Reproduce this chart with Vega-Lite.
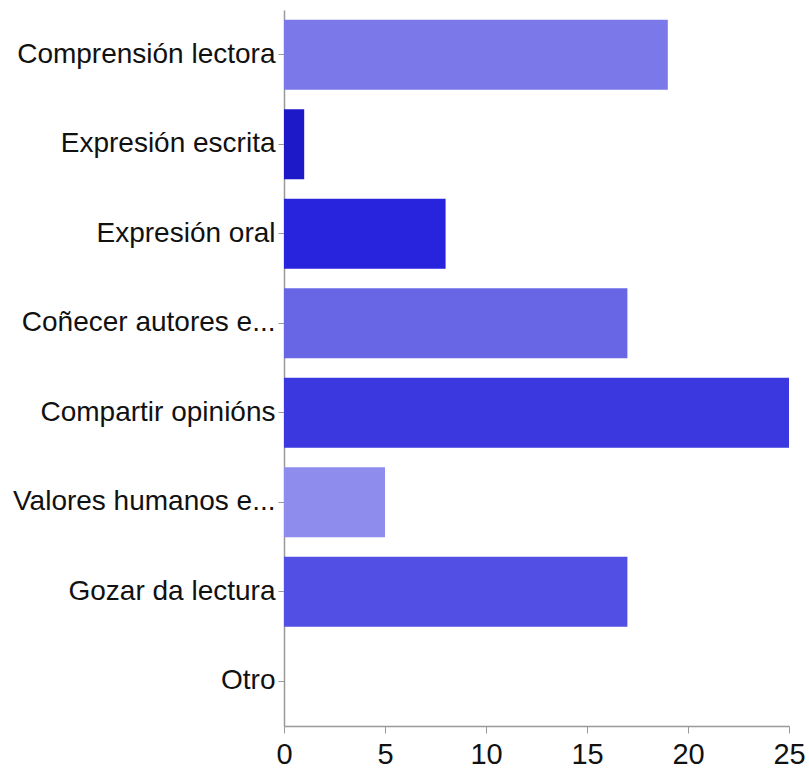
{
  "$schema": "https://vega.github.io/schema/vega-lite/v6.json",
  "autosize": {"type": "none"},
  "width": 505,
  "height": 716,
  "padding": {"left": 284, "top": 10, "right": 20, "bottom": 46},
  "background": "white",
  "config": {
    "view": {"stroke": null},
    "font": "Liberation Sans"
  },
  "data": {
    "values": [
      {"category": "Comprensión lectora", "count": 19, "color": "#7B78EA"},
      {"category": "Expresión escrita", "count": 1, "color": "#1E19C8"},
      {"category": "Expresión oral", "count": 8, "color": "#2823DC"},
      {"category": "Coñecer autores e...", "count": 17, "color": "#6966E6"},
      {"category": "Compartir opinións", "count": 25, "color": "#3A38DE"},
      {"category": "Valores humanos e...", "count": 5, "color": "#8E8CEC"},
      {"category": "Gozar da lectura", "count": 17, "color": "#5250E4"},
      {"category": "Otro", "count": 0, "color": "#5250E4"}
    ]
  },
  "mark": {"type": "bar"},
  "encoding": {
    "y": {
      "field": "category",
      "type": "nominal",
      "sort": null,
      "scale": {"paddingInner": 0.22, "paddingOuter": 0.11},
      "axis": {
        "title": null,
        "labelFont": "Liberation Sans",
        "labelFontSize": 28,
        "labelColor": "#111111",
        "labelPadding": 3,
        "labelLimit": 400,
        "tickSize": 6,
        "tickColor": "#999999",
        "domainColor": "#999999",
        "domainWidth": 1.5,
        "grid": false
      }
    },
    "x": {
      "field": "count",
      "type": "quantitative",
      "scale": {"domain": [0, 25], "nice": false},
      "axis": {
        "title": null,
        "values": [0, 5, 10, 15, 20, 25],
        "labelFont": "Liberation Sans",
        "labelFontSize": 29,
        "labelColor": "#111111",
        "labelPadding": 7,
        "tickSize": 7,
        "tickColor": "#999999",
        "domainColor": "#999999",
        "domainWidth": 1.5,
        "grid": false,
        "labelFlush": false
      }
    },
    "color": {"field": "color", "type": "nominal", "scale": null}
  }
}
